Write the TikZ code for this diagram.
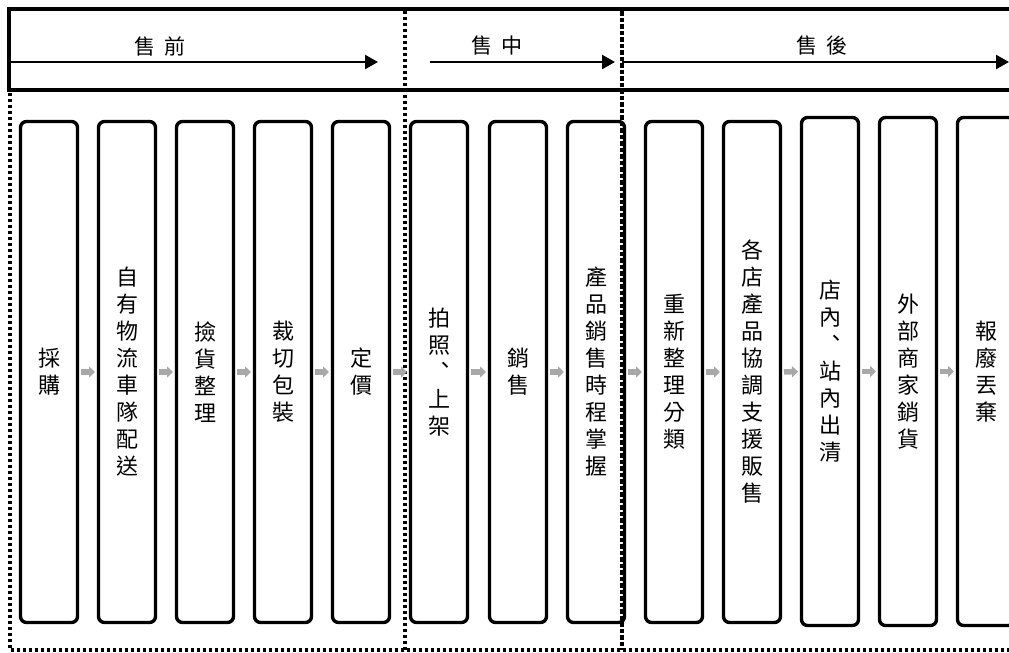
\documentclass[tikz,border=0pt]{standalone}
\usepackage{fontspec}
\newfontfamily\cjk{Noto Sans CJK TC}
\usetikzlibrary{arrows.meta}
\definecolor{flowgray}{RGB}{168,168,168}
\newcommand\vcm{\raisebox{0.3em}{\makebox[1em][l]{\hspace{0.3em}、}}}
\begin{document}
\begin{tikzpicture}[x=1pt,y=-1pt,
  stepbox/.style={draw, line width=3.4pt, rounded corners=6pt, minimum width=57pt,
    minimum height=501pt, inner sep=0pt, outer sep=0pt, align=center,
    font=\cjk\fontsize{22}{27}\selectfont},
  tallbox/.style={stepbox, minimum height=508pt},
  flow/.style={line width=5.5pt, draw=flowgray, -{Triangle[length=6pt,width=11pt]},
    shorten <=3.5pt, shorten >=3.5pt},
  phase/.style={line width=2.4pt, -{Triangle[length=13pt,width=14pt]}},
  phaselabel/.style={font=\cjk\fontsize{21}{24}\selectfont, inner sep=0pt},
  dotline/.style={line width=3.2pt, dash pattern=on 3pt off 3pt},
  dashline/.style={line width=3.2pt, dash pattern=on 4.5pt off 2pt}]
\useasboundingbox (0,0) rectangle (1009,653);
\clip (0,0) rectangle (1009,653);
\fill[white] (0,0) rectangle (1009,653);

% header band
\draw[line width=3.4pt] (1030,9) -- (9,9) -- (9,90) -- (1030,90);

% dotted frames
\draw[dotline] (10,93) -- (10,650) -- (1030,650);
\draw[dotline] (405,11) -- (405,650);
\draw[dashline] (622,11) -- (622,650);

% phase arrows
\coordinate (p1s) at (9,62);   \coordinate (p1e) at (378,62);
\coordinate (p2s) at (430,62); \coordinate (p2e) at (615,62);
\coordinate (p3s) at (622,62); \coordinate (p3e) at (1009,62);
\draw[phase] (p1s) -- (p1e);
\draw[phase] (p2s) -- (p2e);
\draw[phase] (p3s) -- (p3e);
\node[phaselabel] (l1) at (160,46) {售\hspace{9pt}前};
\node[phaselabel] (l2) at (497,46) {售\hspace{9pt}中};
\node[phaselabel] (l3) at (822,46) {售\hspace{9pt}後};

% process boxes
\node[stepbox] (b1)  at (49,372)  {採\\購};
\node[stepbox] (b2)  at (127,372) {自\\有\\物\\流\\車\\隊\\配\\送};
\node[stepbox] (b3)  at (205,372) {撿\\貨\\整\\理};
\node[stepbox] (b4)  at (283,372) {裁\\切\\包\\裝};
\node[stepbox] (b5)  at (361,372) {定\\價};
\node[stepbox] (b6)  at (439,372) {拍\\照\\\vcm\\上\\架};
\node[stepbox] (b7)  at (518,372) {銷\\售};
\node[stepbox] (b8)  at (596,372) {產\\品\\銷\\售\\時\\程\\掌\\握};
\node[stepbox] (b9)  at (674,372) {重\\新\\整\\理\\分\\類};
\node[stepbox] (b10) at (752,372) {各\\店\\產\\品\\協\\調\\支\\援\\販\\售};
\node[tallbox] (b11) at (830,371.5) {店\\內\\\vcm\\站\\內\\出\\清};
\node[tallbox] (b12) at (908,371.5) {外\\部\\商\\家\\銷\\貨};
\node[tallbox] (b13) at (986,371.5) {報\\廢\\丟\\棄};

% flow arrows
\foreach \a/\b in {b1/b2,b2/b3,b3/b4,b4/b5,b5/b6,b6/b7,b7/b8,b8/b9,b9/b10,b10/b11,b11/b12,b12/b13}
  \draw[flow] (\a.east) -- (\b.west);
\end{tikzpicture}
\end{document}
